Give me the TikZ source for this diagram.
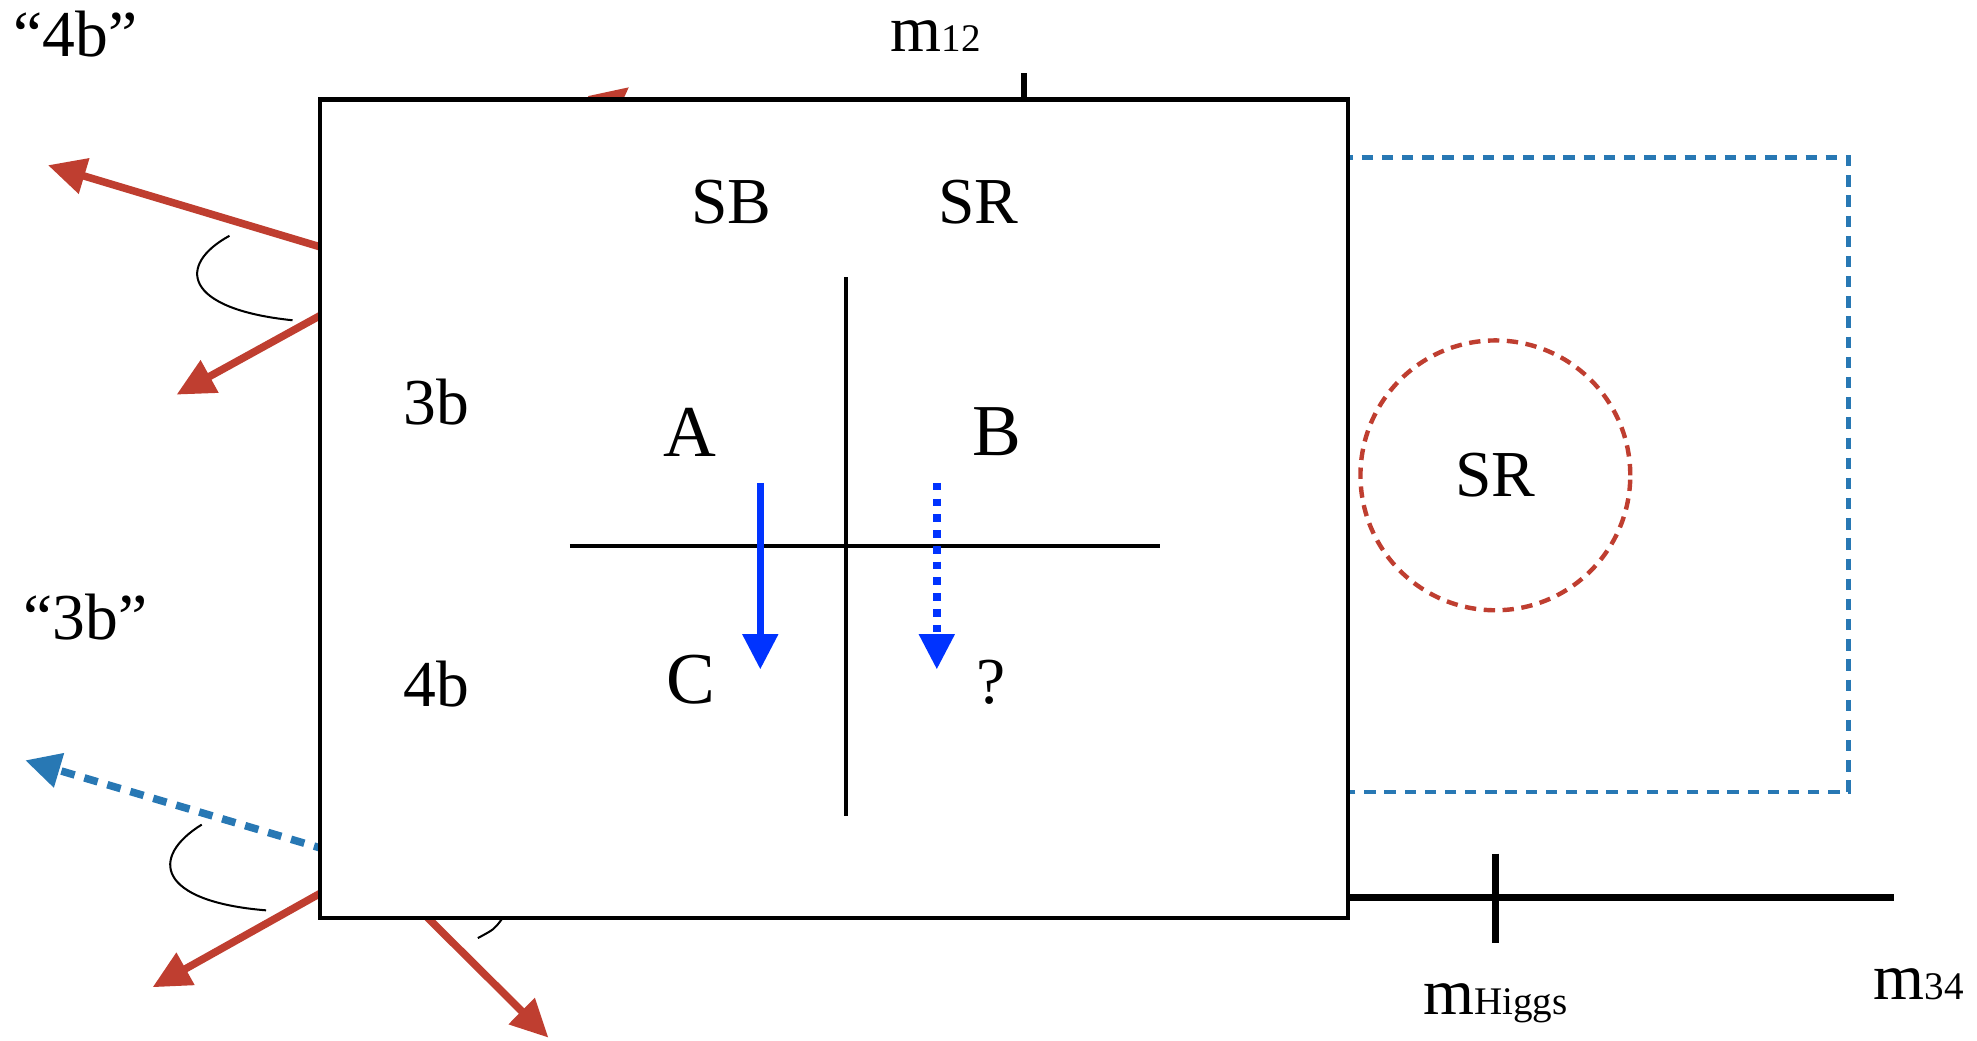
\documentclass[tikz,border=0pt]{standalone}
\usepackage{fontspec}
\setmainfont{Liberation Serif}
\usetikzlibrary{positioning,arrows.meta}
\definecolor{jetred}{HTML}{BF3E30}
\definecolor{jetblue}{HTML}{2878B4}
\definecolor{extrapblue}{HTML}{0033FF}
\newcommand\subsz{\fontsize{31}{31}\selectfont}
\tikzset{
  labeltext/.style={font=\fontsize{52}{60}\selectfont, inner sep=0pt, anchor=base},
  regiontext/.style={font=\fontsize{58}{66}\selectfont, inner sep=0pt, anchor=base},
  jetarrow/.style={-{Triangle[length=30pt,width=28pt]}, line width=6pt, color=jetred},
  fakejet/.style={-{Triangle[length=28pt,width=27pt]}, line width=6pt, color=jetblue,
    dash pattern=on 11pt off 8pt},
  anglearc/.style={line width=1.6pt, black},
  axisline/.style={line width=5.5pt, black},
  cutline/.style={line width=3pt, black},
  extraparrow/.style={-{Triangle[length=28pt,width=27pt]}, line width=6pt, color=extrapblue}
}

\begin{document}
\begin{tikzpicture}[x=1pt, y=-1pt]
    \useasboundingbox (0,0) rectangle (1568,825);

    % signal region in m12 - m34
    \draw[jetblue, line width=3.5pt, dash pattern=on 9pt off 7pt]
      (1000,125) -| (1466,628) -- (1000,628);
    \draw[axisline] (1000,712) -- (1502,712);
    \draw[axisline] (1186,677) -- (1186,748);

    % jets
    \coordinate (vtxtop) at (318,215);
    \coordinate (vtxbot) at (296,685);
    \coordinate (tipone) at (38,131);
    \coordinate (tiptwo) at (140,313);
    \coordinate (tipthree) at (499,69);
    \coordinate (tipfour) at (20,603);
    \coordinate (tipfive) at (121,783);
    \coordinate (tipsix) at (435,823);
    \draw[jetarrow] (vtxtop) -- (tipone);
    \draw[jetarrow] (vtxtop) -- (tiptwo);
    \draw[jetarrow] (vtxtop) -- (tipthree);
    \draw[fakejet] (vtxbot) -- (tipfour);
    \draw[jetarrow] (vtxbot) -- (tipfive);
    \draw[jetarrow] (vtxbot) -- (tipsix);
    \draw[anglearc] (182,187) .. controls (140,210) and (145,245) .. (232,254);
    \draw[anglearc] (160,654) .. controls (118,680) and (125,715) .. (211,722);
    \draw[anglearc] (398,729) .. controls (392,737) .. (379,744);

    % mass plane
    \draw[line width=3.5pt, fill=white] (254,79) rectangle (1069,728);
    \draw[line width=4.5pt] (812,58) -- (812,79);
    \draw[cutline] (671,220) -- (671,647);
    \draw[cutline] (452,433) -- (920,433);

    \node[labeltext] (quotefour) at (60,45) {“4b”};
    \node[labeltext] (quotethree) at (68,507) {“3b”};
    \node[labeltext] (mtwelve) at (742,41) {m{\subsz 12}};
    \node[labeltext] (sbcol) at (580,177) {SB};
    \node[labeltext] (srcol) at (776,177) {SR};
    \node[labeltext] (threerow) at (346,337) {3b};
    \node[labeltext] (fourrow) at (346,560) {4b};
    \node[regiontext] (rega) at (547,362) {A};
    \node[regiontext] (regb) at (791,361) {B};
    \node[regiontext] (regc) at (548,558) {C};
    \node[labeltext] (regq) at (786,558) {?};
    \node[labeltext] (mhiggs) at (1186,805) {m{\subsz Higgs}};
    \node[labeltext] (mthirtyfour) at (1522,793) {m{\subsz 34}};

    % extrapolation A -> C and B -> ?
    \coordinate (extrapa) at (603,383);
    \coordinate (extrapc) at (603,531);
    \coordinate (extrapb) at (743,383);
    \coordinate (extrapq) at (743,531);
    \draw[extraparrow] (extrapa) -- (extrapc);
    \draw[extraparrow, dash pattern=on 6pt off 6.5pt] (extrapb) -- (extrapq);

    \node[circle, draw=jetred, line width=3.5pt, dash pattern=on 9pt off 6pt,
      minimum size=214pt, inner sep=0pt, font=\fontsize{52}{60}\selectfont] (srcircle)
      at (1186,377) {SR};
  \end{tikzpicture}
\end{document}
